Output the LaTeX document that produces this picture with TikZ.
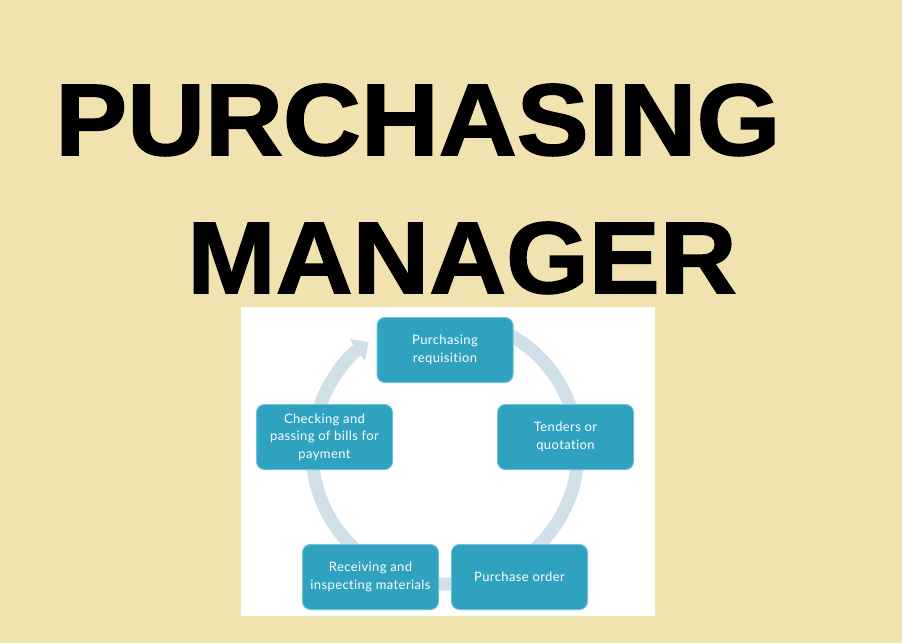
\documentclass[tikz,border=0pt]{standalone}
\usepackage{fontspec}
\usepackage{graphicx}
\usepackage{xcolor}
\usepackage{tikz}
\usetikzlibrary{arrows.meta, positioning}

\newfontfamily\boxfont{Lato}[LetterSpace=3, Ligatures={NoCommon}]
\newfontfamily\headfont{Liberation Sans}[FakeBold=1.5]

\definecolor{paper}{HTML}{F0E3B0}
\definecolor{stepfill}{HTML}{2EA2BF}
\definecolor{stepline}{HTML}{6CC1D6}
\definecolor{ringcol}{HTML}{CFE0E8}

\begin{document}
\begin{tikzpicture}[x=1pt, y=1pt, node distance=2cm, on grid,
    stepbox/.style={draw=stepline, line width=1pt, fill=stepfill, rounded corners=8pt,
        minimum width=136pt, minimum height=65pt, inner sep=2pt, align=center,
        text=white, font=\boxfont\fontsize{13}{17.5}\selectfont},
    ring/.style={draw=ringcol, line width=13pt},
    heading/.style={inner sep=0pt, anchor=base west, font=\headfont\bfseries}]
        % background and white panel
        \fill[paper] (0,0) rectangle (902,-643);
        \fill[white] (241,-307) rectangle (655,-616);

        \node[heading] (title1) at (55,-155) {\resizebox{725pt}{71pt}{PURCHASING}};
        \node[heading] (title2) at (187,-293) {\resizebox{549pt}{71pt}{MANAGER}};

        \coordinate (hub) at (445,-451);
        \draw[ring, -{Triangle[width=26pt,length=14pt]}]
            (hub) ++(70:133) arc[start angle=70, end angle=-235, radius=133];

        \node[stepbox] (req) at (445,-350) {Purchasing\\requisition};
        \node[stepbox] (tend) [below right=87pt and 120.5pt of req] {Tenders or\\quotation};
        \node[stepbox] (order) [below right=227pt and 74.5pt of req] {Purchase order};
        \node[stepbox] (recv) [below left=227pt and 74.5pt of req] {Receiving and\\inspecting materials};
        \node[stepbox] (check) [below left=87pt and 120.5pt of req] {Checking and\\passing of bills for\\payment};
    \end{tikzpicture}
\end{document}
